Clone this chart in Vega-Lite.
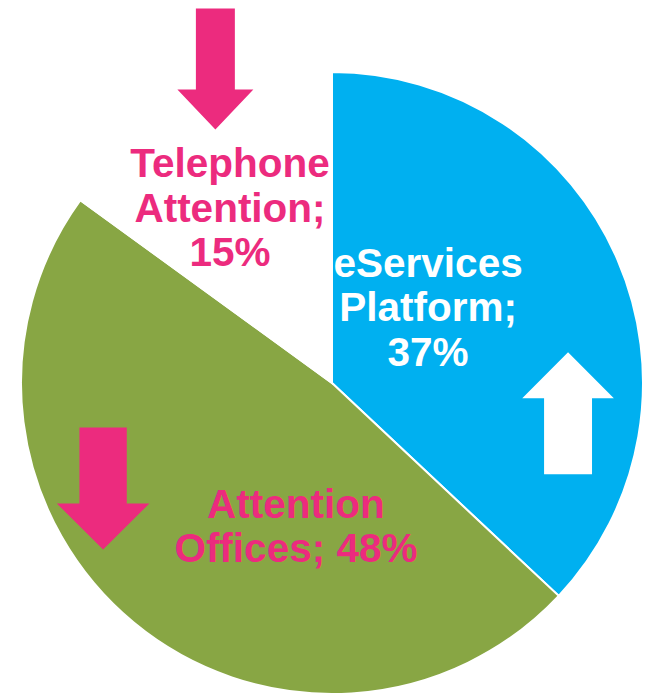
{
  "$schema": "https://vega.github.io/schema/vega-lite/v6.json",
  "width": 622,
  "height": 622,
  "autosize": {"type": "none"},
  "padding": {"left": 21, "top": 72, "right": 7, "bottom": 1},
  "background": "white",
  "config": {"view": {"stroke": null}},
  "data": {
    "values": [
      {"category": "eServices Platform", "value": 37, "trend": "up", "label": "eServices\nPlatform;\n37%"},
      {"category": "Attention Offices", "value": 48, "trend": "down", "label": "Attention\nOffices; 48%"},
      {"category": "Telephone Attention", "value": 15, "trend": "down", "label": "Telephone\nAttention;\n15%"}
    ]
  },
  "layer": [
    {
      "mark": {"type": "arc", "outerRadius": 311, "stroke": "white", "strokeWidth": 2},
      "encoding": {
        "theta": {"field": "value", "type": "quantitative", "stack": true, "scale": {"range": [2.32478, 8.60797]}},
        "order": {"field": "category", "sort": "ascending"},
        "color": {
          "field": "category", "type": "nominal",
          "scale": {"domain": ["eServices Platform", "Attention Offices", "Telephone Attention"], "range": ["#00B0F0", "#88A644", "#FFFFFF"]},
          "legend": null
        }
      }
    },
    {
      "transform": [{"filter": "datum.category === 'Telephone Attention'"}],
      "mark": {"type": "text", "font": "Liberation Sans", "fontWeight": "bold", "fontSize": 40.5, "lineHeight": 44.5, "lineBreak": "\n", "align": "center", "baseline": "alphabetic"},
      "encoding": {
        "x": {"datum": -0.328, "type": "quantitative", "scale": {"domain": [-1, 1]}, "axis": null},
        "y": {"datum": 0.662, "type": "quantitative", "scale": {"domain": [-1, 1]}, "axis": null},
        "text": {"field": "label"},
        "color": {"field": "trend", "type": "nominal", "scale": {"domain": ["down", "up"], "range": ["#EC2B7E", "#FFFFFF"]}, "legend": null}
      }
    },
    {
      "transform": [{"filter": "datum.category === 'eServices Platform'"}],
      "mark": {"type": "text", "font": "Liberation Sans", "fontWeight": "bold", "fontSize": 40.5, "lineHeight": 44.5, "lineBreak": "\n", "align": "center", "baseline": "alphabetic"},
      "encoding": {
        "x": {"datum": 0.309, "type": "quantitative", "scale": {"domain": [-1, 1]}, "axis": null},
        "y": {"datum": 0.341, "type": "quantitative", "scale": {"domain": [-1, 1]}, "axis": null},
        "text": {"field": "label"},
        "color": {"field": "trend", "type": "nominal", "scale": {"domain": ["down", "up"], "range": ["#EC2B7E", "#FFFFFF"]}, "legend": null}
      }
    },
    {
      "transform": [{"filter": "datum.category === 'Attention Offices'"}],
      "mark": {"type": "text", "font": "Liberation Sans", "fontWeight": "bold", "fontSize": 40.5, "lineHeight": 44.5, "lineBreak": "\n", "align": "center", "baseline": "alphabetic"},
      "encoding": {
        "x": {"datum": -0.116, "type": "quantitative", "scale": {"domain": [-1, 1]}, "axis": null},
        "y": {"datum": -0.434, "type": "quantitative", "scale": {"domain": [-1, 1]}, "axis": null},
        "text": {"field": "label"},
        "color": {"field": "trend", "type": "nominal", "scale": {"domain": ["down", "up"], "range": ["#EC2B7E", "#FFFFFF"]}, "legend": null}
      }
    },
    {
      "transform": [{"filter": "datum.category === 'Telephone Attention'"}],
      "mark": {"type": "point", "filled": true, "opacity": 1, "strokeWidth": 0, "size": 14641, "shape": "M-0.322,-1L0.322,-1L0.322,0.339L0.628,0.339L0,1L-0.628,0.339L-0.322,0.339Z"},
      "encoding": {
        "x": {"datum": -0.375, "type": "quantitative", "scale": {"domain": [-1, 1]}, "axis": null},
        "y": {"datum": 1.01, "type": "quantitative", "scale": {"domain": [-1, 1]}, "axis": null},
        "color": {"field": "trend", "type": "nominal", "scale": {"domain": ["down", "up"], "range": ["#EC2B7E", "#FFFFFF"]}, "legend": null}
      }
    },
    {
      "transform": [{"filter": "datum.category === 'Attention Offices'"}],
      "mark": {"type": "point", "filled": true, "opacity": 1, "strokeWidth": 0, "size": 14884, "shape": "M-0.388,-1L0.388,-1L0.388,0.246L0.76,0.246L0,1L-0.76,0.246L-0.388,0.246Z"},
      "encoding": {
        "x": {"datum": -0.736, "type": "quantitative", "scale": {"domain": [-1, 1]}, "axis": null},
        "y": {"datum": -0.339, "type": "quantitative", "scale": {"domain": [-1, 1]}, "axis": null},
        "color": {"field": "trend", "type": "nominal", "scale": {"domain": ["down", "up"], "range": ["#EC2B7E", "#FFFFFF"]}, "legend": null}
      }
    },
    {
      "transform": [{"filter": "datum.category === 'eServices Platform'"}],
      "mark": {"type": "point", "filled": true, "opacity": 1, "strokeWidth": 0, "size": 14884, "shape": "M0,-1L0.751,-0.246L0.393,-0.246L0.393,1L-0.393,1L-0.393,-0.246L-0.751,-0.246Z"},
      "encoding": {
        "x": {"datum": 0.759, "type": "quantitative", "scale": {"domain": [-1, 1]}, "axis": null},
        "y": {"datum": -0.0974, "type": "quantitative", "scale": {"domain": [-1, 1]}, "axis": null},
        "color": {"field": "trend", "type": "nominal", "scale": {"domain": ["down", "up"], "range": ["#EC2B7E", "#FFFFFF"]}, "legend": null}
      }
    }
  ],
  "resolve": {"scale": {"color": "independent"}}
}
